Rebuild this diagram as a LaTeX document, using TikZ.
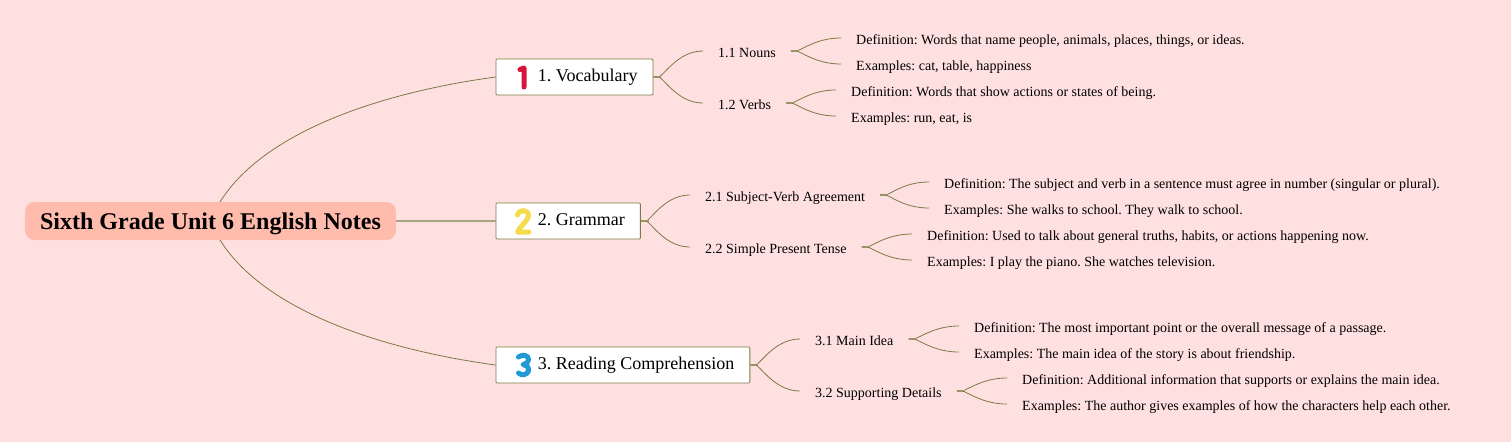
\documentclass[tikz,border=0pt]{standalone}
\usepackage{fontspec}
\usetikzlibrary{calc}
\setmainfont{Liberation Serif}
\frenchspacing
\definecolor{bgpink}{RGB}{255,224,224}
\definecolor{rootfill}{RGB}{255,188,173}
\definecolor{olive}{RGB}{122,122,70}
\definecolor{stub}{RGB}{168,163,122}
\definecolor{onered}{RGB}{217,20,60}
\definecolor{twoyellow}{RGB}{245,220,77}
\definecolor{threeblue}{RGB}{31,154,214}
\tikzset{
	rootnode/.style={fill=rootfill,rounded corners=9pt,minimum height=38pt,inner xsep=15pt,inner ysep=0pt,text height=20pt,text depth=3pt,font=\fontsize{24}{28}\selectfont\bfseries},
	mainbox/.style={draw=olive,fill=white,line width=0.8pt,rounded corners=1pt,anchor=west,minimum height=36pt,inner xsep=15.5pt,inner ysep=0pt,text height=12pt,text depth=4pt,font=\fontsize{18}{22}\selectfont},
	topicnode/.style={anchor=west,inner xsep=15pt,inner ysep=0pt,text height=15pt,text depth=3pt,font=\fontsize{14}{17}\selectfont},
	leafnode/.style={topicnode},
	branch/.style={draw=olive,line width=0.8pt},
	numeral/.style={line width=5pt,line cap=round,line join=round}
}
\begin{document}
\begin{tikzpicture}[x=1pt,y=-1pt]
	\useasboundingbox[fill=bgpink] (0,0) rectangle (1511,442);

	% Wurzel
	\node[rootnode] (root) at (210.5,221) {Sixth Grade Unit 6 English Notes};
	\coordinate (rootup) at (220,202);
	\coordinate (rootdown) at (220,240);

	% Hauptthemen
	\node[mainbox] (vocab) at (495.5,77) {\hspace*{26.5pt}1. Vocabulary};
	\node[mainbox] (grammar) at (495.5,221) {\hspace*{26.5pt}2. Grammar};
	\node[mainbox] (reading) at (495.5,365) {\hspace*{26.5pt}3. Reading Comprehension};

	% Unterthemen
	\node[topicnode] (nouns) at (703,51) {1.1 Nouns};
	\node[topicnode] (verbs) at (703,103) {1.2 Verbs};
	\node[topicnode] (agree) at (690,195) {2.1 Subject-Verb Agreement};
	\node[topicnode] (tense) at (690,247) {2.2 Simple Present Tense};
	\node[topicnode] (idea) at (800,339) {3.1 Main Idea};
	\node[topicnode] (details) at (800,391) {3.2 Supporting Details};

	% Blaetter
	\node[leafnode] (nounsdef) at (841,38) {Definition: Words that name people, animals, places, things, or ideas.};
	\node[leafnode] (nounsex) at (841,64) {Examples: cat, table, happiness};
	\node[leafnode] (verbsdef) at (836,90) {Definition: Words that show actions or states of being.};
	\node[leafnode] (verbsex) at (836,116) {Examples: run, eat, is};
	\node[leafnode] (agreedef) at (929,182) {Definition: The subject and verb in a sentence must agree in number (singular or plural).};
	\node[leafnode] (agreeex) at (929,208) {Examples: She walks to school. They walk to school.};
	\node[leafnode] (tensedef) at (912,234) {Definition: Used to talk about general truths, habits, or actions happening now.};
	\node[leafnode] (tenseex) at (912,260) {Examples: I play the piano. She watches television.};
	\node[leafnode] (ideadef) at (959,326) {Definition: The most important point or the overall message of a passage.};
	\node[leafnode] (ideaex) at (959,352) {Examples: The main idea of the story is about friendship.};
	\node[leafnode] (detailsdef) at (1007,378) {Definition: Additional information that supports or explains the main idea.};
	\node[leafnode] (detailsex) at (1007,404) {Examples: The author gives examples of how the characters help each other.};

	% Linien
	\draw[branch] (rootup) .. controls (265,130) and (385,92) .. (vocab.west);
	\draw[branch] (rootdown) .. controls (265,312) and (385,350) .. (reading.west);
	\draw[draw=stub,line width=1.6pt] (root.east) -- (grammar.west);

	\foreach \parent/\kid in {vocab/nouns,vocab/verbs,grammar/agree,grammar/tense,reading/idea,reading/details,
		nouns/nounsdef,nouns/nounsex,verbs/verbsdef,verbs/verbsex,agree/agreedef,agree/agreeex,
		tense/tensedef,tense/tenseex,idea/ideadef,idea/ideaex,details/detailsdef,details/detailsex}{
		\draw[draw=stub,line width=1.4pt] (\parent.east) -- ++(8,0);
		\draw[branch] (\parent.east) -- ++(6,0) .. controls ($(\parent.east)!0.3!(\kid.west)$) and ($(\kid.west)+(-22,0)$) .. (\kid.west);
	}

	% Ziffern
	\draw[numeral,onered] (520,69.5) -- (524,68) -- (524,87);
	\draw[numeral,twoyellow] (517.5,215) .. controls (518,209) and (529,209) .. (528.5,216) .. controls (528,221) and (520,226) .. (517.5,232) -- (529,232);
	\draw[numeral,threeblue] (518.5,357) .. controls (522,354) and (529,355) .. (528.5,359.5) .. controls (528,363) and (525,364.5) .. (523,364.5) .. controls (526,364.5) and (529,367) .. (528.5,370.5) .. controls (528,375) and (521,376) .. (518.5,373);
\end{tikzpicture}
\end{document}
